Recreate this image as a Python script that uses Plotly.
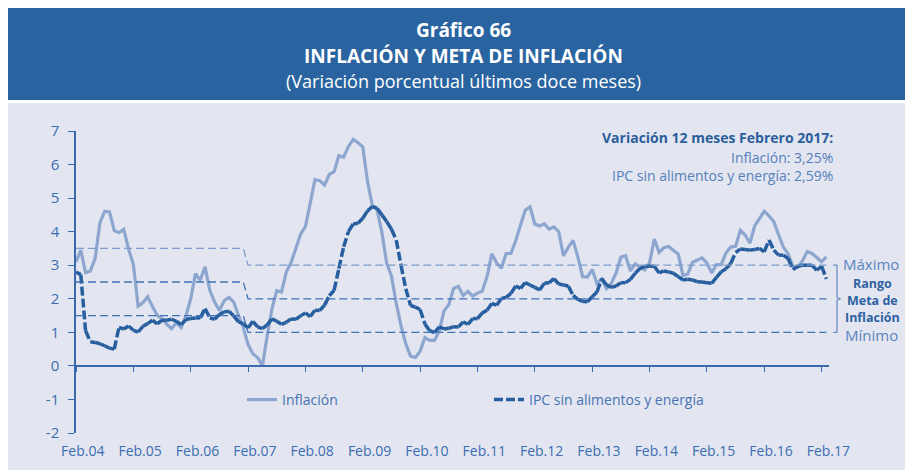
import plotly.graph_objects as go

# Variación porcentual últimos doce meses, mensual: Ene-2004 .. Feb-2017
inflacion = [
    3.10, 3.45, 2.78, 2.83, 3.20, 4.26, 4.61, 4.59, 4.03, 3.97, 4.07, 3.48,
    3.03, 1.78, 1.88, 2.06, 1.77, 1.50, 1.41, 1.24, 1.11, 1.29, 1.14, 1.49,
    2.00, 2.75, 2.55, 2.95, 2.25, 1.90, 1.65, 1.94, 2.04, 1.90, 1.50, 1.14,
    0.64, 0.36, 0.25, 0.00, 0.90, 1.70, 2.24, 2.20, 2.80, 3.08, 3.50, 3.93,
    4.15, 4.82, 5.55, 5.52, 5.39, 5.71, 5.79, 6.27, 6.22, 6.54, 6.75, 6.65,
    6.53, 5.49, 4.78, 4.64, 3.98, 3.06, 2.68, 1.87, 1.20, 0.66, 0.29, 0.25,
    0.44, 0.84, 0.76, 0.76, 1.04, 1.64, 1.82, 2.31, 2.37, 2.10, 2.22, 2.08,
    2.17, 2.23, 2.66, 3.34, 3.07, 2.91, 3.35, 3.35, 3.73, 4.20, 4.64, 4.74,
    4.23, 4.17, 4.23, 4.08, 4.14, 4.00, 3.28, 3.53, 3.74, 3.25, 2.66, 2.65,
    2.87, 2.45, 2.59, 2.31, 2.46, 2.77, 3.24, 3.28, 2.83, 3.04, 2.96, 2.86,
    3.07, 3.78, 3.38, 3.52, 3.56, 3.45, 3.33, 2.69, 2.74, 3.09, 3.16, 3.22,
    3.07, 2.77, 3.02, 3.02, 3.37, 3.54, 3.56, 4.04, 3.90, 3.66, 4.17, 4.40,
    4.61, 4.47, 4.30, 3.91, 3.54, 3.34, 2.96, 2.94, 3.13, 3.41, 3.35, 3.23,
    3.10, 3.25,
]

ipc_sin_alimentos_energia = [
    2.80, 2.72, 1.05, 0.72, 0.70, 0.66, 0.60, 0.53, 0.50, 1.15, 1.10, 1.19,
    1.06, 1.01, 1.18, 1.26, 1.36, 1.25, 1.36, 1.36, 1.39, 1.33, 1.23, 1.38,
    1.41, 1.43, 1.43, 1.71, 1.43, 1.39, 1.53, 1.61, 1.63, 1.49, 1.31, 1.26,
    1.13, 1.33, 1.16, 1.11, 1.22, 1.40, 1.33, 1.24, 1.30, 1.40, 1.39, 1.49,
    1.58, 1.47, 1.66, 1.65, 1.81, 2.09, 2.25, 2.90, 3.55, 4.00, 4.23, 4.25,
    4.40, 4.62, 4.75, 4.70, 4.50, 4.30, 4.08, 3.75, 3.00, 2.30, 1.80, 1.75,
    1.68, 1.25, 1.05, 0.99, 1.16, 1.10, 1.12, 1.17, 1.16, 1.31, 1.24, 1.41,
    1.41, 1.58, 1.66, 1.86, 1.81, 2.01, 2.04, 2.16, 2.38, 2.31, 2.48, 2.41,
    2.34, 2.26, 2.46, 2.48, 2.60, 2.44, 2.41, 2.38, 2.10, 1.98, 1.92, 1.91,
    2.06, 2.20, 2.60, 2.41, 2.34, 2.38, 2.48, 2.48, 2.58, 2.76, 2.90, 2.97,
    2.97, 2.97, 2.77, 2.83, 2.80, 2.76, 2.66, 2.56, 2.58, 2.56, 2.51, 2.50,
    2.48, 2.46, 2.64, 2.80, 2.90, 3.05, 3.38, 3.48, 3.47, 3.45, 3.47, 3.50,
    3.40, 3.75, 3.45, 3.30, 3.30, 3.20, 2.87, 2.97, 3.00, 3.00, 3.00, 2.85,
    2.97, 2.59,
]

# Meta puntual: 2,5% hasta dic-2006 y 2,0% desde ene-2007, con rango de +/- 1 punto
meta_centro = [2.5] * 36 + [2.0] * 122
tolerancia = 1.0

anios = list(range(2004, 2018))
etiquetas_x = [f"Feb.{a % 100:02d}" for a in anios]
y_ticks = [-2, -1, 0, 1, 2, 3, 4, 5, 6, 7]
y_ticktext = [str(v) for v in y_ticks]

n = len(inflacion)
meses = list(range(n))
pos_feb = [12 * k + 1 for k in range(len(anios))]
pos_ene = [12 * k for k in range(len(anios))]

meta_max = [c + tolerancia for c in meta_centro]
meta_min = [c - tolerancia for c in meta_centro]

# Figure geometry (pixels)
W, H = 905, 473
L, R, T, B = 76, 76, 131, 40
PW, PH = W - L - R, H - T - B


def fx(px):
    return (px - L) / PW


def fy(py):
    return (H - B - py) / PH


FONT = "Open Sans"
AZUL_BANDA = "#2a64a0"
FONDO = "#e3e6f0"
AZUL_TEXTO = "#3c6db0"
AZUL_CLARO = "#8ca6cf"
AZUL_OSCURO = "#275e9f"
META_SUP = "#7f9ccb"
META_INF = "#3f72b6"

fig = go.Figure()

# Target range lines
for serie, color in ((meta_max, META_SUP), (meta_centro, META_INF), (meta_min, META_INF)):
    fig.add_trace(go.Scatter(
        x=meses, y=serie, mode="lines", xaxis="x2", showlegend=False,
        line=dict(color=color, width=1.3, dash="8px,4px"), hoverinfo="skip",
    ))

fig.add_trace(go.Scatter(
    x=meses, y=inflacion, mode="lines", name="Inflación",
    line=dict(color=AZUL_CLARO, width=3.2), legend="legend",
))

# Core index: each monthly segment is its own sub-path so the dash pattern
# restarts at every point (short flat segments read as solid).
xs, ys = [], []
for i in range(n - 1):
    xs += [meses[i], meses[i + 1], None]
    ys += [ipc_sin_alimentos_energia[i], ipc_sin_alimentos_energia[i + 1], None]
fig.add_trace(go.Scatter(
    x=xs, y=ys, mode="lines", name="IPC sin alimentos y energía",
    connectgaps=False, line=dict(color=AZUL_OSCURO, width=3.5, dash="9px,3px"),
    legend="legend2",
))

shapes = [
    dict(type="rect", xref="paper", yref="paper", x0=fx(8), x1=fx(W), y0=fy(100), y1=fy(8),
         fillcolor=AZUL_BANDA, line=dict(width=0), layer="below"),
    dict(type="rect", xref="paper", yref="paper", x0=fx(8), x1=fx(W), y0=fy(470), y1=fy(103),
         fillcolor=FONDO, line=dict(width=0), layer="below"),
    # brace next to the target range
    dict(type="path", xref="paper", yref="y",
         path=(f"M{fx(833)},3 L{fx(837)},3 L{fx(837)},2.04 L{fx(840)},2 "
               f"L{fx(837)},1.96 L{fx(837)},1 L{fx(833)},1"),
         line=dict(color="#6d8fc4", width=1.3)),
]

annotations = [
    dict(text="<b>Gráfico 66</b>", x=fx(463), y=fy(30), font=dict(size=19, color="white")),
    dict(text="<b>INFLACIÓN Y META DE INFLACIÓN</b>", x=fx(463), y=fy(56),
         font=dict(size=19, color="white")),
    dict(text="(Variación porcentual últimos doce meses)", x=fx(463), y=fy(81),
         font=dict(size=18, color="white")),
    dict(text="<b>Variación 12 meses Febrero 2017:</b>", x=fx(834), y=fy(137), xanchor="right",
         font=dict(size=14, color="#2b5e9c")),
    dict(text=f"Inflación: {inflacion[-1]:.2f}%".replace(".", ","), x=fx(834), y=fy(157),
         xanchor="right", font=dict(size=14, color="#5580bb")),
    dict(text=f"IPC sin alimentos y energía: {ipc_sin_alimentos_energia[-1]:.2f}%".replace(".", ","),
         x=fx(834), y=fy(175), xanchor="right", font=dict(size=14, color="#5580bb")),
    dict(text="Máximo", x=fx(842), y=fy(264), xanchor="left",
         font=dict(size=15, color="#5a84bf")),
    dict(text="Mínimo", x=fx(844), y=fy(335), xanchor="left",
         font=dict(size=15, color="#5a84bf")),
]
for texto, py in (("Rango", 283), ("Meta de", 300), ("Inflación", 317)):
    annotations.append(dict(text=f"<b>{texto}</b>", x=fx(872), y=fy(py),
                            font=dict(size=12.5, color="#2e62a2")))

for a in annotations:
    a.setdefault("xref", "paper")
    a.setdefault("yref", "paper")
    a.setdefault("xanchor", "center")
    a["yanchor"] = "middle"
    a["showarrow"] = False
    a["borderpad"] = 0
    a["font"]["family"] = FONT

legend_common = dict(orientation="h", bgcolor="rgba(0,0,0,0)", yanchor="middle", xanchor="left",
                     font=dict(family=FONT, size=14, color="#4673b3"))

fig.update_layout(
    width=W, height=H, autosize=False,
    margin=dict(l=L, r=R, t=T, b=B),
    paper_bgcolor="white", plot_bgcolor=FONDO,
    font=dict(family=FONT, color=AZUL_TEXTO),
    shapes=shapes, annotations=annotations,
    legend=dict(x=fx(242), y=fy(400), **legend_common),
    legend2=dict(x=fx(489), y=fy(400), **legend_common),
    xaxis=dict(range=[0, n - 0.45], tickvals=pos_feb, ticktext=etiquetas_x, ticks="",
               showline=False, showgrid=False, zeroline=False, ticklabelstandoff=8,
               ticklabelshift=2, tickfont=dict(size=14, color=AZUL_TEXTO)),
    xaxis2=dict(overlaying="x", matches="x", anchor="free", position=2 / 9,
                tickvals=pos_ene, showticklabels=False, ticks="outside", ticklen=5,
                tickwidth=1.2, tickcolor="#3a6aad", showline=True, linecolor="#3a6aad",
                linewidth=1.5, showgrid=False, zeroline=False),
    yaxis=dict(range=[-2, 7], tickvals=y_ticks, ticktext=y_ticktext, ticks="outside",
               ticklen=6, tickwidth=1.2, tickcolor="#3a6aad", showline=True,
               linecolor="#3a6aad", linewidth=1.5, showgrid=False, zeroline=False,
               tickfont=dict(size=15, color=AZUL_TEXTO), ticklabelstandoff=6),
    hovermode=False,
)

fig.write_html("out.html")
